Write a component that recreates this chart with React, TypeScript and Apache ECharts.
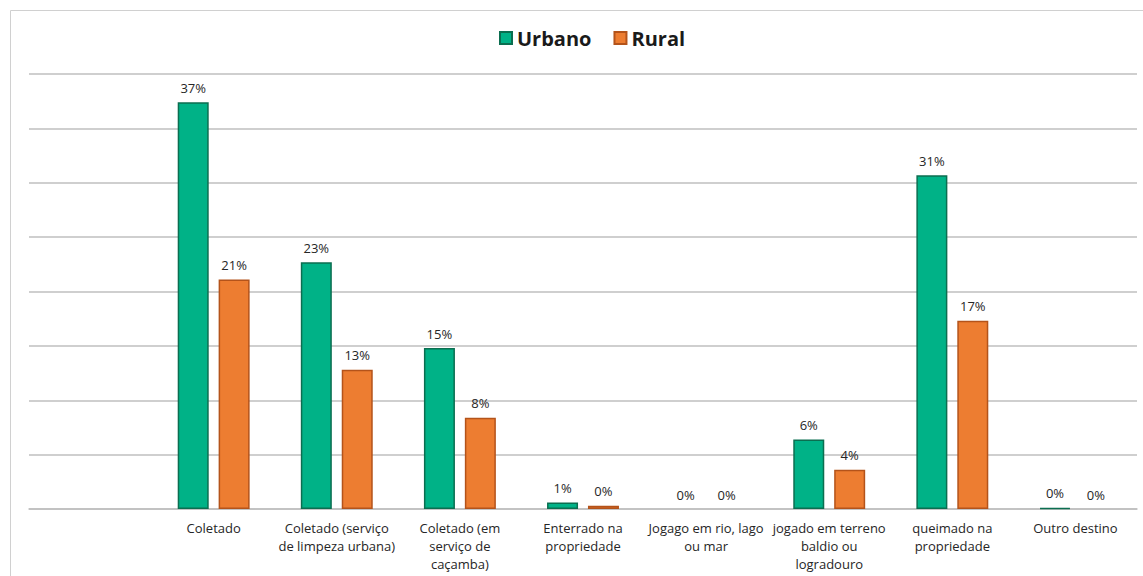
import React, { useEffect, useRef } from "react";
import * as echarts from "echarts";

const categories = [
  "",
  "Coletado",
  "Coletado (serviço\nde limpeza urbana)",
  "Coletado (em\nserviço de\ncaçamba)",
  "Enterrado na\npropriedade",
  "Jogago em rio, lago\nou mar",
  "jogado em terreno\nbaldio ou\nlogradouro",
  "queimado na\npropriedade",
  "Outro destino",
];
const urbano = [null, 37.4, 22.7, 14.8, 0.6, 0, 6.4, 30.7, 0.1];
const rural = [null, 21.1, 12.8, 8.4, 0.3, 0, 3.6, 17.3, 0];
const seriesNames = ["Urbano", "Rural"];

const FONT = "'Open Sans', 'Noto Sans', sans-serif";

const toItems = (arr: (number | null)[]) =>
  arr.map((v) =>
    v === 0
      ? { value: 0, itemStyle: { borderWidth: 0, borderColor: "transparent", color: "transparent" } }
      : v
  );

export default function App() {
  const ref = useRef<HTMLDivElement>(null);
  useEffect(() => {
    document.body.style.margin = "0";
    const chart = echarts.init(ref.current!, null, { renderer: "svg" });
    const label = {
      show: true,
      position: "top" as const,
      distance: 8,
      fontSize: 13,
      fontFamily: FONT,
      color: "#262626",
      formatter: (p: any) => (p.value == null ? "" : Math.round(p.value) + "%"),
    };
    chart.setOption({
      animation: false,
      backgroundColor: "#ffffff",
      graphic: [
        {
          type: "rect",
          shape: { x: 10.5, y: 10.5, width: 1200, height: 600 },
          style: { fill: "none", stroke: "#d0d0d0", lineWidth: 1 },
          silent: true,
        },
      ],
      legend: {
        top: 23,
        left: 494,
        itemWidth: 12,
        itemHeight: 12,
        itemGap: 22,
        icon: "rect",
        textStyle: { fontSize: 20, fontWeight: "bold", color: "#1a1a1a", fontFamily: FONT },
        data: seriesNames,
      },
      grid: { left: 29, right: 6, top: 74, bottom: 67, containLabel: false },
      xAxis: {
        type: "category",
        data: categories,
        axisLine: { lineStyle: { color: "#bfbfbf", width: 1.5 } },
        axisTick: { show: false },
        axisLabel: {
          interval: 0,
          margin: 10,
          fontSize: 13,
          lineHeight: 18,
          fontFamily: FONT,
          color: "#262626",
        },
      },
      yAxis: {
        type: "value",
        min: 0,
        max: 40,
        interval: 5,
        axisLabel: { show: false },
        axisLine: { show: false },
        axisTick: { show: false },
        splitLine: { lineStyle: { color: "#bfbfbf", width: 1.5 } },
      },
      series: [
        {
          name: seriesNames[0],
          type: "bar",
          data: toItems(urbano),
          barWidth: 31,
          barGap: "32%",
          itemStyle: { color: "#00B287", borderColor: "#0B6E50", borderWidth: 1.5 },
          label,
        },
        {
          name: seriesNames[1],
          type: "bar",
          data: toItems(rural),
          barWidth: 31,
          itemStyle: { color: "#ED7D31", borderColor: "#B4531A", borderWidth: 1.5 },
          label,
        },
      ],
    });
    return () => chart.dispose();
  }, []);
  return <div ref={ref} style={{ position: "absolute", left: 0, top: 0, width: 1143, height: 576 }} />;
}
